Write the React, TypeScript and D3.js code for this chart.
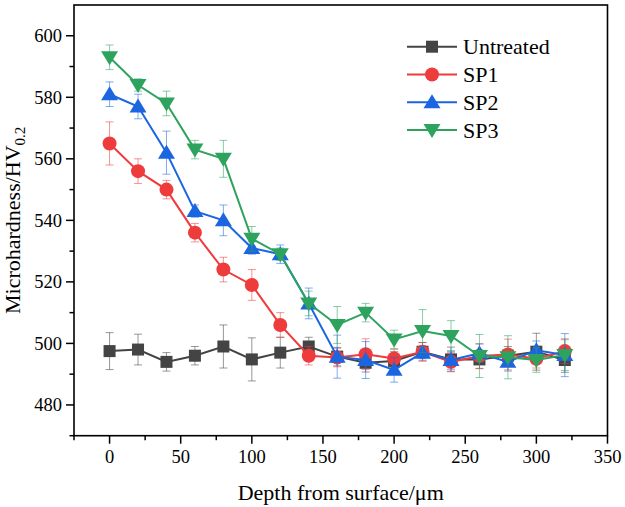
import { scaleLinear, line } from "d3";

const depth = [0, 20, 40, 60, 80, 100, 120, 140, 160, 180, 200, 220, 240, 260, 280, 300, 320];

const untreated = [497.5, 498, 494, 496, 499, 494.8, 497, 499, 495.7, 493.7, 494.3, 497.3, 494.8, 494.8, 496, 497.3, 494.6];
const untreatedErr = [6, 5, 3, 3, 7, 7, 5, 3, 3, 3, 3, 3, 4, 3, 3, 6, 4];

const sp1 = [565, 556, 550, 536, 524, 519, 506, 496, 495.4, 496.5, 495.1, 497.3, 494, 495.9, 496.4, 495, 497.5];
const sp1Err = [7, 4, 3, 3, 4, 5, 4, 3, 3, 5, 3, 3, 3, 4, 5, 3, 4];

const sp2 = [581, 577, 562, 543, 540, 531, 529, 513, 495.7, 494.6, 491.4, 497, 494.6, 496.8, 494, 497.8, 496.2];
const sp2Err = [4, 4, 7, 2, 5, 2, 3, 5, 7, 6, 4, 2, 3, 3, 3, 3, 7];

const sp3 = [593, 584, 578, 563, 560, 534, 529, 513, 506, 510, 501.3, 504, 502.4, 495.9, 495.5, 494.6, 496.2];
const sp3Err = [4, 2, 4, 3, 6, 4, 2, 4, 6, 3, 3, 7, 5, 7, 7, 4, 5];

const seriesNames = ["Untreated", "SP1", "SP2", "SP3"];

const xTicks = [0, 50, 100, 150, 200, 250, 300, 350];
const xMinor = [-25, 25, 75, 125, 175, 225, 275, 325];
const yTicks = [480, 500, 520, 540, 560, 580, 600];
const yMinor = [470, 490, 510, 530, 550, 570, 590];

const width = 625;
const height = 507;
const margin = { top: 5, right: 17.5, bottom: 71.3, left: 74 };
const innerWidth = width - margin.left - margin.right;
const innerHeight = height - margin.top - margin.bottom;

const serif = { fontFamily: "'Liberation Serif', 'Times New Roman', serif" };

type Shape = "square" | "circle" | "up" | "down";

const series: { name: string; values: number[]; err: number[]; color: string; shape: Shape }[] = [
  { name: seriesNames[0], values: untreated, err: untreatedErr, color: "#444444", shape: "square" },
  { name: seriesNames[1], values: sp1, err: sp1Err, color: "#ee3b3c", shape: "circle" },
  { name: seriesNames[2], values: sp2, err: sp2Err, color: "#1b66e0", shape: "up" },
  { name: seriesNames[3], values: sp3, err: sp3Err, color: "#2ea35e", shape: "down" },
];

const Marker = ({ shape, x, y, color }: { shape: Shape; x: number; y: number; color: string }) => {
  if (shape === "square") return <rect x={x - 6} y={y - 6} width={12} height={12} fill={color} />;
  if (shape === "circle") return <circle cx={x} cy={y} r={7} fill={color} />;
  if (shape === "up")
    return <polygon points={`${x},${y - 8} ${x + 8.5},${y + 6} ${x - 8.5},${y + 6}`} fill={color} />;
  return <polygon points={`${x},${y + 8} ${x + 8.5},${y - 6} ${x - 8.5},${y - 6}`} fill={color} />;
};

const App = () => {
  const xScale = scaleLinear().domain([-25, 350]).range([0, innerWidth]);
  const yScale = scaleLinear().domain([470, 610]).range([innerHeight, 0]);

  const lineGen = line<number>()
    .x((_, i) => xScale(depth[i]))
    .y((d) => yScale(d));

  return (
    <svg width={width} height={height} style={{ position: "absolute", left: 0, top: 0 }}>
      <rect width={width} height={height} fill="white" />
      <g transform={`translate(${margin.left},${margin.top})`}>
        {/* series: error bars, line, markers */}
        {series.map((s) => (
          <g key={s.name}>
            {s.values.map((v, i) => {
              const x = xScale(depth[i]);
              const y1 = yScale(v + s.err[i]);
              const y2 = yScale(v - s.err[i]);
              return (
                <g key={i} stroke={s.color} strokeOpacity={0.55} strokeWidth={1}>
                  <line x1={x} x2={x} y1={y1} y2={y2} />
                  <line x1={x - 4} x2={x + 4} y1={y1} y2={y1} />
                  <line x1={x - 4} x2={x + 4} y1={y2} y2={y2} />
                </g>
              );
            })}
            <path d={lineGen(s.values) || ""} fill="none" stroke={s.color} strokeWidth={2} />
            {s.values.map((v, i) => (
              <Marker key={i} shape={s.shape} x={xScale(depth[i])} y={yScale(v)} color={s.color} />
            ))}
          </g>
        ))}

        {/* frame */}
        <rect x={0} y={0} width={innerWidth} height={innerHeight} fill="none" stroke="black" strokeWidth={1.6} />

        {/* x axis */}
        {xTicks.map((t) => (
          <g key={t} transform={`translate(${xScale(t)},${innerHeight})`}>
            <line y2={8} stroke="black" strokeWidth={1.5} />
            <text y={27.5} textAnchor="middle" fontSize={18.5} style={serif}>
              {t}
            </text>
          </g>
        ))}
        {xMinor.map((t) => (
          <line key={t} x1={xScale(t)} x2={xScale(t)} y1={innerHeight} y2={innerHeight + 4.5} stroke="black" strokeWidth={1.5} />
        ))}

        {/* y axis */}
        {yTicks.map((t) => (
          <g key={t} transform={`translate(0,${yScale(t)})`}>
            <line x2={-8} stroke="black" strokeWidth={1.5} />
            <text x={-12} dy="0.35em" textAnchor="end" fontSize={18.5} style={serif}>
              {t}
            </text>
          </g>
        ))}
        {yMinor.map((t) => (
          <line key={t} y1={yScale(t)} y2={yScale(t)} x1={0} x2={-4.5} stroke="black" strokeWidth={1.5} />
        ))}

        {/* axis titles */}
        <text x={innerWidth / 2} y={innerHeight + 64} textAnchor="middle" fontSize={22} style={serif}>
          Depth from surface/μm
        </text>
        <text
          transform={`translate(${19.5 - margin.left},${innerHeight / 2}) rotate(-90)`}
          textAnchor="middle"
          fontSize={22}
          style={serif}
        >
          Microhardness/HV<tspan fontSize={15} dy={5}>0.2</tspan>
        </text>

        {/* legend */}
        {series.map((s, i) => {
          const ly = 41.7 + i * 27.8;
          return (
            <g key={s.name} transform={`translate(${333},${ly})`}>
              <line x1={0} x2={50} stroke={s.color} strokeWidth={2} />
              <Marker shape={s.shape} x={25} y={0} color={s.color} />
              <text x={56} dy="0.35em" fontSize={22} style={serif}>
                {s.name}
              </text>
            </g>
          );
        })}
      </g>
    </svg>
  );
};

export default App;
